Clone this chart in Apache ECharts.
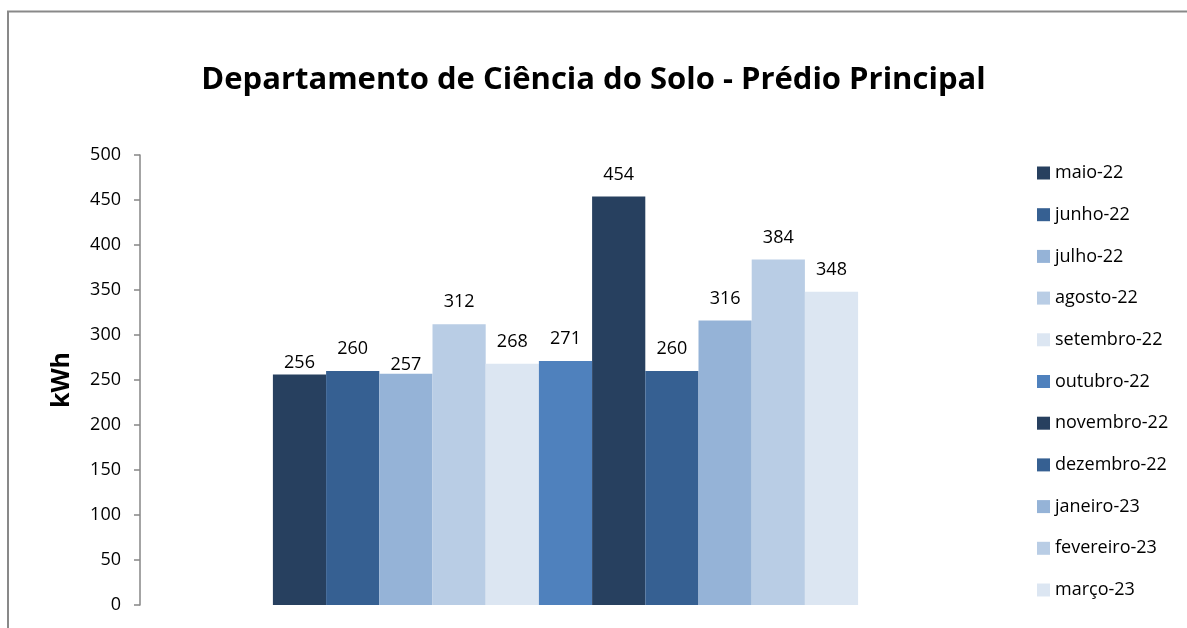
<!DOCTYPE html>
<html><head><meta charset="utf-8">
<script src="https://cdn.jsdelivr.net/npm/echarts@6/dist/echarts.min.js"></script>
<style>html,body{margin:0;padding:0;background:#fff}#c{width:1187px;height:628px}</style>
</head><body><div id="c"></div>
<script>
const categories = ['Consumo'];
const months = ['maio-22','junho-22','julho-22','agosto-22','setembro-22','outubro-22','novembro-22','dezembro-22','janeiro-23','fevereiro-23','março-23'];
const values = [256,260,257,312,268,271,454,260,316,384,348];
const yTicks = [0,50,100,150,200,250,300,350,400,450,500];
const colors = ['#27405F','#366092','#95B3D7','#B9CDE5','#DCE6F2','#4F81BD','#27405F','#366092','#95B3D7','#B9CDE5','#DCE6F2'];
const labelDist = [3,13,0,13,13,13,13,13,13,13,13];

const FONT = 'Open Sans';
const chart = echarts.init(document.getElementById('c'), null, {renderer:'canvas'});
chart.setOption({
  animation:false,
  backgroundColor:'#fff',
  textStyle:{fontFamily:FONT},
  title:{text:'Departamento de Ciência do Solo - Prédio Principal', left:'center', top:60,
    textStyle:{fontFamily:FONT, fontWeight:'bold', fontSize:31, color:'#000'}},
  legend:{orient:'vertical', left:1032, top:158, icon:'rect', itemWidth:13, itemHeight:13,
    itemGap:21.7, itemTextGap:8,
    textStyle:{fontFamily:FONT, fontSize:18, color:'#000', lineHeight:20},
    data:months},
  grid:{left:140, top:155, right:196, bottom:23, containLabel:false},
  xAxis:{type:'category', data:categories, show:false},
  yAxis:{type:'value', min:yTicks[0], max:yTicks[yTicks.length-1], interval:50,
    name:'kWh', nameLocation:'middle', nameGap:66, nameRotate:90,
    nameTextStyle:{fontFamily:FONT, fontWeight:'bold', fontSize:25, color:'#000'},
    axisLine:{show:true, lineStyle:{color:'#868686', width:1.5}},
    axisTick:{show:true, length:6, lineStyle:{color:'#868686', width:1.5}},
    splitLine:{show:false},
    axisLabel:{fontFamily:FONT, fontSize:18, color:'#000', margin:19}},
  series: months.map((m,i)=>({
    name:m, type:'bar', data:[values[i]], barWidth:53.2, barGap:'0%',
    itemStyle:{color:colors[i]},
    label:{show:true, position:'top', distance:labelDist[i], fontFamily:FONT, fontSize:18, color:'#000'}
  })),
  graphic:[
    {type:'line', shape:{x1:7, y1:11.5, x2:1187, y2:11.5}, style:{stroke:'#898989', lineWidth:2}},
    {type:'line', shape:{x1:8, y1:11, x2:8, y2:628}, style:{stroke:'#898989', lineWidth:2}}
  ]
});
</script></body></html>
